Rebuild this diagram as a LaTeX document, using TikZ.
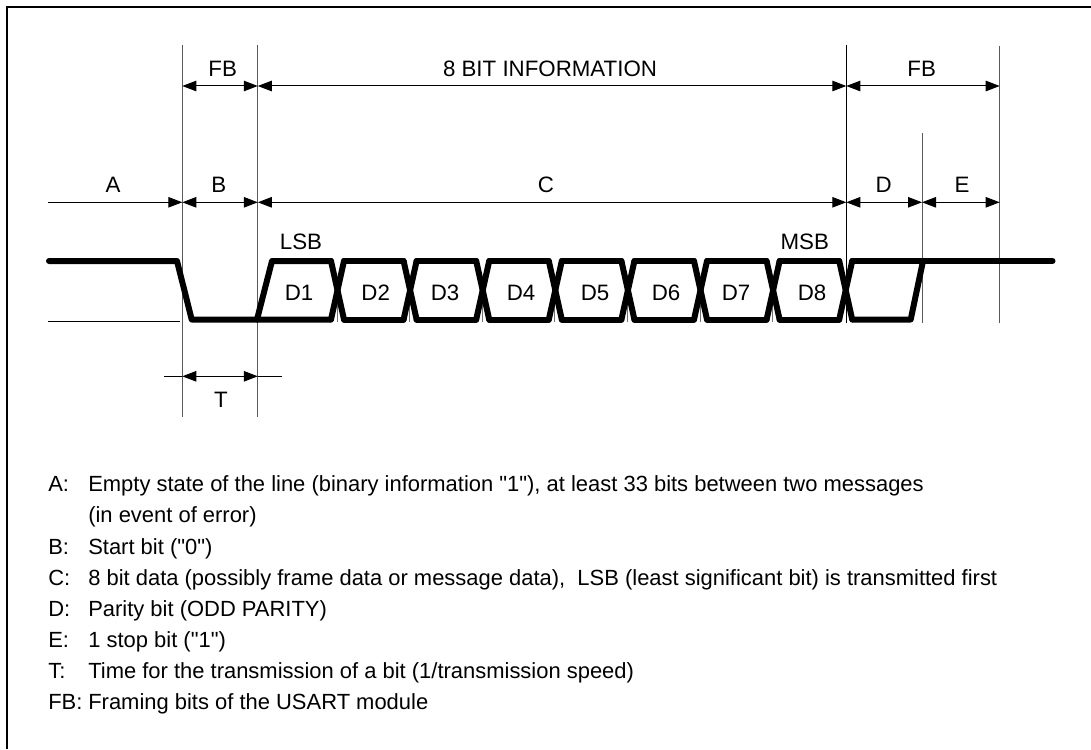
\documentclass[tikz,border=0pt]{standalone}
\usepackage{fontspec}
\newfontfamily\arialfam{Liberation Sans}
\usetikzlibrary{arrows.meta}
\tikzset{
  x=1pt,y=-1pt,
  lbl/.style={inner sep=0pt,outer sep=0pt,anchor=base,font=\arialfam\fontsize{22.3}{25}\selectfont},
  keytext/.style={inner sep=0pt,outer sep=0pt,anchor=base west,font=\arialfam\fontsize{21.95}{25}\selectfont},
  guide/.style={line width=1pt,draw=black!65},
  guidedark/.style={line width=1pt,draw=black},
  dim/.style={line width=1pt,draw=black},
  dimarrow/.style={dim,{Triangle[length=14pt,width=10.5pt]}-{Triangle[length=14pt,width=10.5pt]}},
  dimend/.style={dim,-{Triangle[length=14pt,width=10.5pt]}},
  sig/.style={line width=6pt,line join=round,line cap=round,draw=black},
  tick/.style={line width=.8pt,draw=black!55},
  frameline/.style={line width=2pt,draw=black}
}
\begin{document}
\begin{tikzpicture}
\useasboundingbox (0,0) rectangle (1091,749);
% frame (only top and left edges are visible)
\coordinate (fbl) at (7,749);
\coordinate (ftl) at (7,7.5);
\coordinate (ftr) at (1091,7.5);
\draw[frameline] (fbl) -- (ftl) -- (ftr);
% guides
\coordinate (g1t) at (182.3,45);  \coordinate (g1b) at (182.3,417);
\coordinate (g2t) at (257.8,45);  \coordinate (g2b) at (257.8,417);
\coordinate (g3t) at (846.3,45);  \coordinate (g3b) at (846.3,323);
\coordinate (g4t) at (922,133);   \coordinate (g4b) at (922,323);
\coordinate (g5t) at (999.7,46);  \coordinate (g5b) at (999.7,323);
\draw[guide] (g1t) -- (g1b);
\draw[guide] (g2t) -- (g2b);
\draw[guidedark] (g3t) -- (g3b);
\draw[guide] (g4t) -- (g4b);
\draw[guide] (g5t) -- (g5b);
% dimension row FB / 8 bit
\coordinate (r1a) at (182.3,86);
\coordinate (r1b) at (257.8,86);
\coordinate (r1c) at (846.3,86);
\coordinate (r1d) at (999.7,86);
\draw[dimarrow] (r1a) -- (r1b);
\draw[dimarrow] (r1b) -- (r1c);
\draw[dimarrow] (r1c) -- (r1d);
% dimension row A..E
\coordinate (r2s) at (48,202.3);
\coordinate (r2a) at (182.3,202.3);
\coordinate (r2b) at (257.8,202.3);
\coordinate (r2c) at (846.3,202.3);
\coordinate (r2d) at (922,202.3);
\coordinate (r2e) at (999.7,202.3);
\draw[dimend] (r2s) -- (r2a);
\draw[dimarrow] (r2a) -- (r2b);
\draw[dimarrow] (r2b) -- (r2c);
\draw[dimarrow] (r2c) -- (r2d);
\draw[dimarrow] (r2d) -- (r2e);
% T
\coordinate (tl) at (164.3,376.3);
\coordinate (ta) at (182.3,376.3);
\coordinate (tb) at (257.8,376.3);
\coordinate (tr) at (281.7,376.3);
\draw[dim] (tl) -- (ta);
\draw[dimarrow] (ta) -- (tb);
\draw[dim] (tb) -- (tr);
% low reference line
\coordinate (lowa) at (48,321.3);
\coordinate (lowb) at (180,321.3);
\draw[dim] (lowa) -- (lowb);
% ticks at the bit boundaries
\foreach \k in {0,...,6}{
  \pgfmathsetmacro{\c}{337+72.6*\k}
  \coordinate (tk\k a) at (\c,295);
  \coordinate (tk\k b) at (\c,322);
  \draw[tick] (tk\k a) -- (tk\k b);
}
% signal
\coordinate (s0) at (49,261);
\coordinate (s1) at (177,261);
\coordinate (s2) at (191.7,319.5);
\coordinate (s3) at (257,319.5);
\coordinate (s4) at (272,261);
\coordinate (s5) at (331,261);
\coordinate (s6) at (331,319.5);
\draw[sig] (s0) -- (s1) -- (s2) -- (s3) -- (s6);
\draw[sig] (s3) -- (s4) -- (s5);
\foreach \k in {0,...,7}{
  \pgfmathsetmacro{\c}{337.5+72.6*\k}
  \pgfmathsetmacro{\l}{\c-6.5}
  \pgfmathsetmacro{\r}{\c+6.5}
  \pgfmathsetmacro{\n}{\c+72.6-6.5}
  \coordinate (xtl) at (\l,261);
  \coordinate (xtr) at (\r,261);
  \coordinate (xbl) at (\l,319.5);
  \coordinate (xbr) at (\r,319.5);
  \draw[sig] (xtl) -- (xbr);
  \draw[sig] (xbl) -- (xtr);
  \ifnum\k<7
    \coordinate (ntl) at (\n,261);
    \coordinate (nbl) at (\n,319.5);
    \draw[sig] (xtr) -- (ntl);
    \draw[sig] (xbr) -- (nbl);
  \fi
}
\coordinate (p1) at (852.2,261);
\coordinate (p2) at (923,261);
\coordinate (p3) at (910.7,319.5);
\coordinate (p4) at (852.2,319.5);
\coordinate (p5) at (1052.5,261);
\draw[sig] (p4) -- (p3) -- (p2);
\draw[sig] (p1) -- (p5);
% labels
\node[lbl] (lfb1) at (222.7,76.7) {FB};
\node[lbl] (l8) at (550,76.7) {8 BIT INFORMATION};
\node[lbl] (lfb2) at (921.7,76.7) {FB};
\node[lbl] (la) at (113,192.7) {A};
\node[lbl] (lb) at (218.7,192.7) {B};
\node[lbl] (lc) at (546,192.7) {C};
\node[lbl] (ld) at (883.7,192.7) {D};
\node[lbl] (le) at (962,192.7) {E};
\node[lbl] (llsb) at (301,249) {LSB};
\node[lbl] (lmsb) at (804.7,249) {MSB};
\node[lbl] (d1) at (299,300) {D1};
\node[lbl] (d2) at (375.7,300) {D2};
\node[lbl] (d3) at (445,300) {D3};
\node[lbl] (d4) at (521,300) {D4};
\node[lbl] (d5) at (595,300) {D5};
\node[lbl] (d6) at (666,300) {D6};
\node[lbl] (d7) at (736,300) {D7};
\node[lbl] (d8) at (812,300) {D8};
\node[lbl] (lt) at (221,407) {T};
% key
\node[keytext] (ka) at (48.3,491) {A:};
\node[keytext] (kat) at (88.3,491) {Empty state of the line (binary information "1"), at least 33 bits between two messages};
\node[keytext] (kat2) at (88.3,522) {(in event of error)};
\node[keytext] (kb) at (48.3,554) {B:};
\node[keytext] (kbt) at (88.3,554) {Start bit ("0")};
\node[keytext] (kc) at (48.3,585) {C:};
\node[keytext] (kct) at (88.3,585) {8 bit data (possibly frame data or message data),\ \ LSB (least significant bit) is transmitted first};
\node[keytext] (kd) at (48.3,616) {D:};
\node[keytext] (kdt) at (88.3,616) {Parity bit (ODD PARITY)};
\node[keytext] (ke) at (48.3,647.5) {E:};
\node[keytext] (ket) at (88.3,647.5) {1 stop bit ("1")};
\node[keytext] (kt) at (48.3,678.7) {T:};
\node[keytext] (ktt) at (88.3,678.7) {Time for the transmission of a bit (1/transmission speed)};
\node[keytext] (kf) at (48.3,709.5) {FB:};
\node[keytext] (kft) at (88.3,709.5) {Framing bits of the USART module};
\end{tikzpicture}
\end{document}
